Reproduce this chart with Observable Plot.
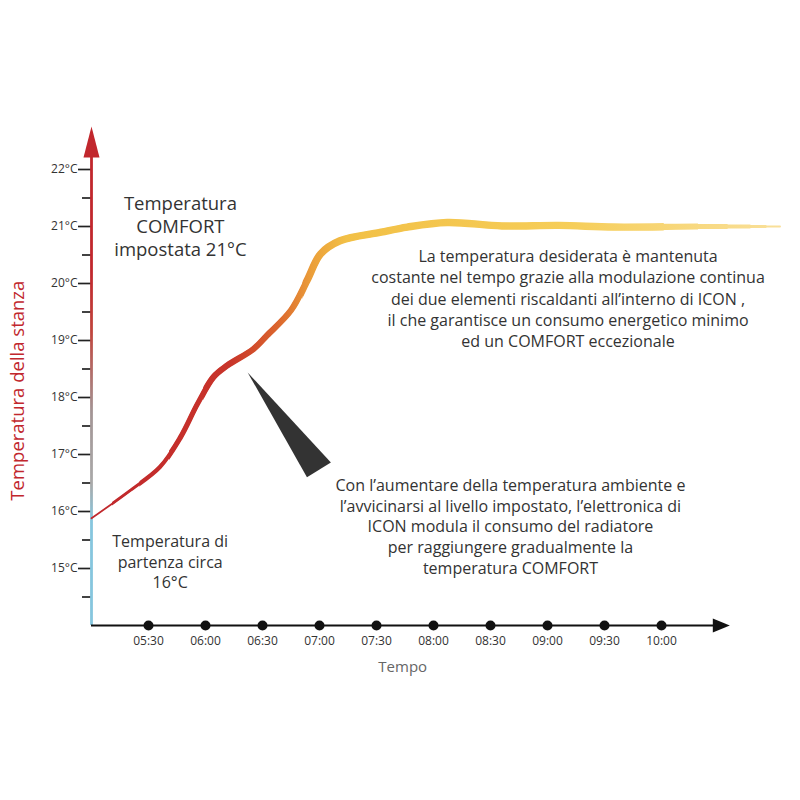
<!DOCTYPE html>
<html>
<head>
<meta charset="utf-8">
<script src="https://cdn.jsdelivr.net/npm/d3@7"></script>
<script src="https://cdn.jsdelivr.net/npm/@observablehq/plot@0.6"></script>
<style>
  html, body { margin: 0; padding: 0; background: #ffffff; }
  #chart { width: 800px; height: 800px; }
</style>
</head>
<body>
<div id="chart"></div>
<script>
// ---- data ----
// room temperature curve: hours since midnight, °C
const curveHours = [5.00, 5.34, 5.60, 5.78, 5.93, 6.07, 6.19, 6.42, 6.54, 6.75, 6.89, 7.01, 7.18, 7.54, 7.77, 8.12, 8.60, 9.10, 9.58, 10.30, 10.70, 11.04];
const curveTemps = [15.88, 16.37, 16.78, 17.30, 17.89, 18.36, 18.56, 18.85, 19.09, 19.53, 20.05, 20.52, 20.75, 20.90, 20.99, 21.07, 21.01, 21.02, 20.99, 21.00, 21.00, 21.00];

// x axis tick labels (time of day)
const timeLabels = ["05:30", "06:00", "06:30", "07:00", "07:30", "08:00", "08:30", "09:00", "09:30", "10:00"];
// y axis ticks (°C)
const tempTicks = [15, 16, 17, 18, 19, 20, 21, 22];
const tempMinorTicks = [14.5, 15.5, 16.5, 17.5, 18.5, 19.5, 20.5, 21.5];

// pointer triangle (hours, °C)
const pointerHours = [6.37, 6.89, 7.10];
const pointerTemps = [18.44, 16.60, 16.86];

// annotations
const noteComfort = ["Temperatura", "COMFORT", "impostata 21°C"];
const noteStart = ["Temperatura di", "partenza circa", "16°C"];
const noteSteady = [
  "La temperatura desiderata è mantenuta",
  "costante nel tempo grazie alla modulazione continua",
  "dei due elementi riscaldanti all’interno di ICON ,",
  "il che garantisce un consumo energetico minimo",
  "ed un COMFORT eccezionale"
];
const noteRamp = [
  "Con l’aumentare della temperatura ambiente e",
  "l’avvicinarsi al livello impostato, l’elettronica di",
  "ICON modula il consumo del radiatore",
  "per raggiungere gradualmente la",
  "temperatura COMFORT"
];
const yTitle = "Temperatura della stanza";
const xTitle = "Tempo";

// ---- helpers ----
const toHours = s => { const [h, m] = s.split(":").map(Number); return h + m / 60; };
const tickHours = timeLabels.map(toHours);
const curve = curveHours.map((h, i) => ({h, t: curveTemps[i]}));
const pointer = pointerHours.map((h, i) => ({h, t: pointerTemps[i]}));
const xStart = 5, yStart = 14;
const n = curve.length;

// brush-stroke look: the same curve drawn in overlapping passes, each clipped
// to a narrower time window, so the stroke is thin at both ends
const passes = [
  {w: 1.8},
  {w: 3.0, from: 5.18, to: 10.92},
  {w: 4.2, from: 5.42, to: 10.78},
  {w: 5.2, from: 5.68, to: 10.58},
  {w: 6.2, from: 5.98, to: 10.32},
  {w: 7.4, from: 6.85, to: 10.02}
];
const curveMarks = passes.map(p => Plot.line(curve, {
  x: "h", y: "t", curve: "catmull-rom", stroke: "url(#cgrad)", strokeWidth: p.w,
  strokeLinecap: "round", strokeLinejoin: "round"
}));

const chart = Plot.plot({
  width: 800,
  height: 800,
  marginLeft: 91,
  marginRight: 13.6,
  marginTop: 112,
  marginBottom: 175,
  x: {domain: [5, 11.1], axis: null, label: null},
  y: {domain: [14, 23], axis: null, label: null},
  style: {fontFamily: "'Open Sans', sans-serif", background: "white", overflow: "visible"},
  marks: [
    // y axis ticks
    Plot.axisY({ticks: tempTicks, tickSize: 13, tickPadding: 1, tickFormat: d => d + "°C", label: null,
      fontSize: 12, stroke: "#222", strokeWidth: 1.7, fill: "#333"}),
    Plot.axisY({ticks: tempMinorTicks, tickSize: 9, tickFormat: () => "", label: null, stroke: "#222", strokeWidth: 1.7}),
    // y axis line with gradient
    Plot.ruleX([xStart], {y1: yStart, y2: 22.3, stroke: "url(#ygrad)", strokeWidth: 2.8}),
    Plot.vector([xStart], {x: d => d, y: 22.21, length: 31, r: 8, shape: "spike", anchor: "start",
      rotate: 0, fill: "#c1272d", stroke: "none"}),
    // x axis line + arrow
    Plot.ruleY([yStart], {x1: xStart, x2: 10.5, stroke: "#111", strokeWidth: 2}),
    Plot.vector([yStart], {x: 10.45, y: d => d, length: 17, r: 7, shape: "spike", anchor: "start",
      rotate: 90, fill: "#111", stroke: "none"}),
    Plot.dot(tickHours, {x: d => d, y: yStart, r: 5, fill: "#111"}),
    Plot.text(tickHours, {x: d => d, y: yStart, text: (d, i) => timeLabels[i], dy: 16,
      fontSize: 12, fill: "#333"}),
    // axis titles
    Plot.text([xTitle], {x: 7.73, y: 13.26, text: d => d, fontSize: 15, fill: "#666"}),
    Plot.text([yTitle], {x: 4.36, y: 18.12, text: d => d, rotate: -90, fontSize: 18.5, fill: "#c1272d"}),
    // temperature curve
    ...curveMarks,
    // pointer
    Plot.line(pointer, {x: "h", y: "t", fill: "#333", stroke: "none"}),
    // annotations
    Plot.text([noteComfort.join("\n")], {x: 5.78, y: 21.02, text: d => d, fontSize: 18.5, lineHeight: 1.26, fill: "#333"}),
    Plot.text([noteStart.join("\n")], {x: 5.69, y: 15.13, text: d => d, fontSize: 16, lineHeight: 1.28, fill: "#333"}),
    Plot.text([noteSteady.join("\n")], {x: 9.18, y: 19.75, text: d => d, fontSize: 16, lineHeight: 1.33, fill: "#333"}),
    Plot.text([noteRamp.join("\n")], {x: 8.675, y: 15.75, text: d => d, fontSize: 16, lineHeight: 1.31, fill: "#333"})
  ]
});

// gradients and clip windows positioned through the plot's own scales
const xs = chart.scale("x"), ys = chart.scale("y");
const defs = d3.select(chart).insert("defs", ":first-child");
const cg = defs.append("linearGradient").attr("id", "cgrad").attr("gradientUnits", "userSpaceOnUse")
  .attr("x1", xs.apply(curveHours[0])).attr("x2", xs.apply(curveHours[n - 1]))
  .attr("y1", 0).attr("y2", 0);
[[0, "#c0272d"], [0.2, "#c8342a"], [0.27, "#db652d"], [0.32, "#eb9f3a"], [0.37, "#f2c046"],
 [0.7, "#f6ce5a"], [1, "#f9e09a"]].forEach(([o, c]) => cg.append("stop").attr("offset", o).attr("stop-color", c));
const yg = defs.append("linearGradient").attr("id", "ygrad").attr("gradientUnits", "userSpaceOnUse")
  .attr("x1", 0).attr("x2", 0).attr("y1", ys.apply(14)).attr("y2", ys.apply(22.3));
[[0, "#86c6de"], [0.22, "#86c6de"], [0.3, "#a9a9a9"], [0.45, "#a39595"], [0.62, "#c0453d"],
 [0.75, "#c1272d"], [1, "#c1272d"]].forEach(([o, c]) => yg.append("stop").attr("offset", o).attr("stop-color", c));

const lineGroups = chart.querySelectorAll('g[aria-label="line"]');
passes.forEach((p, i) => {
  if (p.from === undefined) return;
  const x0 = xs.apply(p.from), x1 = xs.apply(p.to);
  defs.append("clipPath").attr("id", "pass" + i)
    .append("rect").attr("x", x0).attr("y", 0).attr("width", x1 - x0).attr("height", 800);
  lineGroups[i].setAttribute("clip-path", `url(#pass${i})`);
});

document.getElementById("chart").appendChild(chart);
</script>
</body>
</html>
